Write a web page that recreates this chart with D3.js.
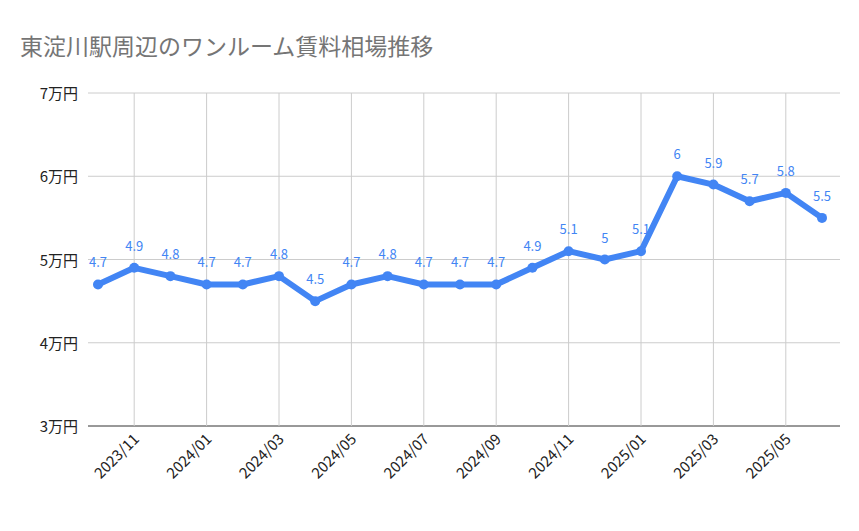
<!DOCTYPE html>
<html><head><meta charset="utf-8">
<script src="https://cdn.jsdelivr.net/npm/d3@7"></script>
<style>body{margin:0;background:#fff}text{font-family:"Noto Sans CJK JP","Noto Sans",sans-serif}</style>
</head><body><svg id="c" width="859" height="531"></svg>
<script>
const months = ["2023/10","2023/11","2023/12","2024/01","2024/02","2024/03","2024/04","2024/05","2024/06","2024/07","2024/08","2024/09","2024/10","2024/11","2024/12","2025/01","2025/02","2025/03","2025/04","2025/05","2025/06"];
const rents = [4.7,4.9,4.8,4.7,4.7,4.8,4.5,4.7,4.8,4.7,4.7,4.7,4.9,5.1,5.0,5.1,6.0,5.9,5.7,5.8,5.5];
const yTicks = [3,4,5,6,7];

const svg = d3.select("#c");
const PLOT = {left: 88, right: 840, top: 93, bottom: 426};
const x = d3.scaleLinear().domain([0, months.length - 1]).range([98, 822]);
const y = d3.scaleLinear().domain([3, 7]).range([PLOT.bottom, PLOT.top]);

svg.append("text").attr("x", 20).attr("y", 55).attr("font-size", 23).attr("fill", "#757575")
  .text("東淀川駅周辺のワンルーム賃料相場推移");

svg.append("g").selectAll("line").data(yTicks).join("line")
  .attr("x1", PLOT.left).attr("x2", PLOT.right).attr("y1", d => y(d)).attr("y2", d => y(d))
  .attr("stroke", d => d === 3 ? "#333" : "#ccc");
svg.append("g").selectAll("text").data(yTicks).join("text")
  .attr("x", 78).attr("y", d => y(d) + 6).attr("text-anchor", "end").attr("font-size", 15).attr("fill", "#222")
  .text(d => d + "万円");

const labIdx = months.map((m, i) => i).filter(i => i % 2 === 1);
svg.append("g").selectAll("line").data(labIdx).join("line")
  .attr("x1", d => x(d)).attr("x2", d => x(d)).attr("y1", PLOT.top).attr("y2", PLOT.bottom).attr("stroke", "#ccc");
svg.append("g").selectAll("text").data(labIdx).join("text")
  .attr("transform", d => `translate(${x(d) + 6},${PLOT.bottom + 14}) rotate(-45)`)
  .attr("text-anchor", "end").attr("font-size", 15).attr("fill", "#222")
  .text(d => months[d]);

svg.append("path").datum(rents)
  .attr("d", d3.line().x((d, i) => x(i)).y(d => y(d)))
  .attr("fill", "none").attr("stroke", "#4285f4").attr("stroke-width", 6).attr("stroke-linejoin", "round");
svg.append("g").selectAll("circle").data(rents).join("circle")
  .attr("cx", (d, i) => x(i)).attr("cy", d => y(d)).attr("r", 5).attr("fill", "#4285f4");
svg.append("g").selectAll("text").data(rents).join("text")
  .attr("x", (d, i) => x(i)).attr("y", d => y(d) - 17).attr("text-anchor", "middle")
  .attr("font-size", 13).attr("fill", "#4285f4").text(d => d);
</script></body></html>
